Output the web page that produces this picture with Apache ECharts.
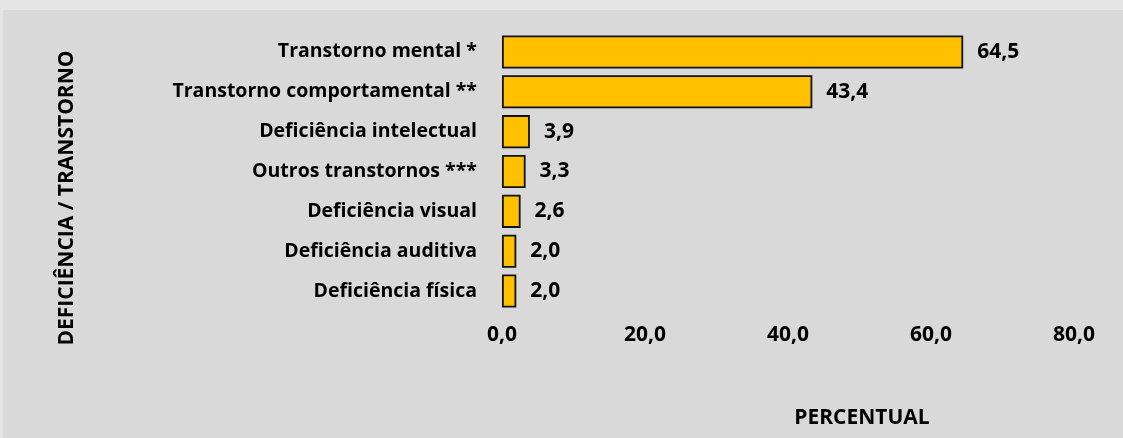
<!DOCTYPE html>
<html>
<head>
<meta charset="utf-8">
<script src="https://cdn.jsdelivr.net/npm/echarts@6/dist/echarts.min.js"></script>
<style>
  html, body { margin: 0; padding: 0; background: #e5e5e5; }
  #chart { width: 1123px; height: 438px; }
</style>
</head>
<body>
<div id="chart"></div>
<script>
const categories = [
  'Transtorno mental *',
  'Transtorno comportamental **',
  'Deficiência intelectual',
  'Outros transtornos ***',
  'Deficiência visual',
  'Deficiência auditiva',
  'Deficiência física',
]
const values = [64.5, 43.4, 3.9, 3.3, 2.6, 2.0, 2.0]
const xTicks = [0, 20, 40, 60, 80]

const font = '"Open Sans", "DejaVu Sans", sans-serif'
const fmt = (v) => Number(v).toFixed(1).replace('.', ',')

const chart = echarts.init(document.getElementById('chart'))
const option = {
  backgroundColor: '#e5e5e5',
  textStyle: { fontFamily: font },
  animation: false,
  graphic: [
    {
      type: 'rect',
      shape: { x: 3, y: 10, width: 1120, height: 428 },
      style: { fill: '#d9d9d9' },
      z: -10,
    },
    {
      type: 'text',
      x: 67,
      y: 198,
      rotation: Math.PI / 2,
      style: {
        text: 'DEFICIÊNCIA / TRANSTORNO',
        fontFamily: font,
        fontSize: 21,
        fontWeight: 'bold',
        fill: '#000',
        align: 'center',
        verticalAlign: 'middle',
      },
    },
    {
      type: 'text',
      x: 862,
      y: 418,
      style: {
        text: 'PERCENTUAL',
        fontFamily: font,
        fontSize: 21,
        fontWeight: 'bold',
        fill: '#000',
        align: 'center',
        verticalAlign: 'middle',
      },
    },
  ],
  grid: {
    left: 502,
    right: 1123 - 1074,
    top: 32,
    bottom: 438 - 311,
    containLabel: false,
  },
  xAxis: {
    type: 'value',
    min: xTicks[0],
    max: xTicks[xTicks.length - 1],
    interval: 20,
    axisLine: { show: false },
    axisTick: { show: false },
    splitLine: { show: false },
    axisLabel: {
      margin: 14,
      color: '#000',
      fontSize: 21,
      fontWeight: 'bold',
      fontFamily: font,
      formatter: (v) => fmt(v),
    },
  },
  yAxis: {
    type: 'category',
    data: categories,
    inverse: true,
    axisLine: { show: false },
    axisTick: { show: false },
    splitLine: { show: false },
    axisLabel: {
      margin: 25,
      color: '#000',
      fontSize: 19.5,
      fontWeight: 'bold',
      fontFamily: font,
    },
  },
  series: [
    {
      type: 'bar',
      data: values,
      barCategoryGap: '17%',
      itemStyle: {
        color: '#ffc000',
        borderColor: '#111',
        borderWidth: 1.8,
      },
      label: {
        show: true,
        position: 'right',
        distance: 14,
        color: '#000',
        fontSize: 21,
        fontWeight: 'bold',
        fontFamily: font,
        formatter: (p) => fmt(p.value),
      },
    },
  ],
}
chart.setOption(option)
</script>
</body>
</html>
